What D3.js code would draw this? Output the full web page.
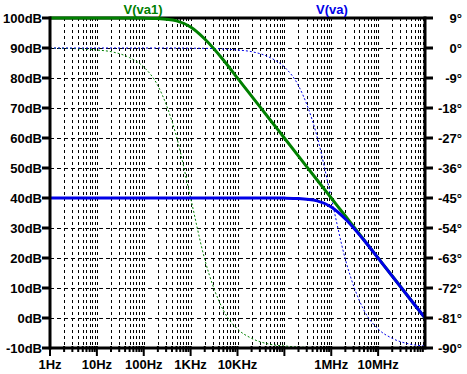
<!DOCTYPE html>
<html lang="en">

<head>
    <meta charset="UTF-8">
    <title>Bode plot</title>
    <script src="https://d3js.org/d3.v7.min.js"></script>
    <style>
        body { margin: 0; background: #fff; }
        text { font-family: "Liberation Sans", Arial, sans-serif; font-weight: bold; font-size: 13px; }
    </style>
</head>

<body>
    <script>
        // frequencies (Hz) the traces were read at
        var freq = [1, 2, 5, 10, 20, 50, 100, 200, 500, 1e3, 2e3, 5e3, 1e4, 2e4, 5e4,
            1e5, 2e5, 5e5, 1e6, 2e6, 5e6, 1e7, 2e7, 5e7, 1e8];

        // V(va1) magnitude (dB) and phase (deg)
        var va1Mag = [100, 100, 100, 100, 100, 100, 99.96, 99.83, 99.03, 96.99, 93.01, 86.02, 79.96,
            73.98, 66.0, 60.0, 53.98, 46.0, 40.0, 34.0, 26.0, 20.0, 14.0, 6.0, 0.0];
        var va1Phase = [-0.06, -0.1, -0.3, -0.6, -1.1, -2.9, -5.7, -11.3, -26.6, -45, -63.4, -78.7, -84.3,
            -87.1, -88.9, -89.4, -89.7, -89.9, -90, -90, -90, -90, -90, -90, -90];

        // V(va) magnitude (dB) and phase (deg)
        var vaMag = [40, 40, 40, 40, 40, 40, 40, 40, 40, 40, 40, 40, 40,
            40, 40, 39.96, 39.83, 39.03, 37.0, 33.0, 25.9, 19.96, 13.98, 6.0, 0.0];
        var vaPhase = [0, 0, 0, 0, 0, 0, 0, 0, 0, -0.06, -0.1, -0.3, -0.6,
            -1.1, -2.9, -5.7, -11.3, -26.6, -45, -63.4, -78.7, -84.3, -87.1, -88.9, -89.4];

        var dbTicks = [100, 90, 80, 70, 60, 50, 40, 30, 20, 10, 0, -10];
        var degTicks = [9, 0, -9, -18, -27, -36, -45, -54, -63, -72, -81, -90];
        var freqLabels = [
            { f: 1, label: "1Hz" }, { f: 10, label: "10Hz" }, { f: 100, label: "100Hz" },
            { f: 1e3, label: "1KHz" }, { f: 1e4, label: "10KHz" },
            { f: 1e6, label: "1MHz" }, { f: 1e7, label: "10MHz" }
        ];

        var pLeft = 50, pRight = 425, pTop = 18, pBottom = 348;
        var green = "#008000", blue = "#0000e8";

        var svg = d3.select("body")
            .append("svg")
            .attr("width", "467")
            .attr("height", "374");

        var x = d3.scaleLog().domain([1, 1e8]).range([pLeft, pRight]);
        var yDb = d3.scaleLinear().domain([-10, 100]).range([pBottom, pTop]);
        var yDeg = d3.scaleLinear().domain([-90, 9]).range([pBottom, pTop]);

        // minor/major frequency positions
        var gridF = [];
        for (var d = 0; d < 8; d++) {
            for (var m = 1; m <= 9; m++) {
                if (d == 0 && m == 1) continue;
                gridF.push(m * Math.pow(10, d));
            }
        }

        // vertical grid
        svg.append("g").selectAll("line")
            .data(gridF)
            .join("line")
            .attr("x1", function (f) { return Math.round(x(f)) + 0.5; })
            .attr("x2", function (f) { return Math.round(x(f)) + 0.5; })
            .attr("y1", pTop)
            .attr("y2", pBottom)
            .attr("stroke", "#000")
            .attr("stroke-width", 1)
            .attr("stroke-dasharray", "3,3");

        // horizontal grid
        svg.append("g").selectAll("line")
            .data(dbTicks.slice(1, -1))
            .join("line")
            .attr("x1", pLeft)
            .attr("x2", pRight)
            .attr("y1", function (v) { return Math.round(yDb(v)) + 0.5; })
            .attr("y2", function (v) { return Math.round(yDb(v)) + 0.5; })
            .attr("stroke", "#000")
            .attr("stroke-width", 1)
            .attr("stroke-dasharray", "4,3");

        var idx = d3.range(freq.length);

        function trace(vals, yScale, color, width, dash) {
            var line = d3.line()
                .x(function (i) { return x(freq[i]); })
                .y(function (i) { return yScale(vals[i]); })
                .curve(d3.curveMonotoneX);
            var p = svg.append("path")
                .datum(idx)
                .attr("d", line)
                .attr("fill", "none")
                .attr("stroke", color)
                .attr("stroke-width", width);
            if (dash) p.attr("stroke-dasharray", dash);
        }

        // phase traces (dotted), then magnitudes
        trace(va1Phase, yDeg, green, 1, "2,2");
        trace(vaPhase, yDeg, blue, 1, "2,2");

        // frame
        svg.append("line").attr("x1", pLeft).attr("x2", pRight).attr("y1", pTop).attr("y2", pTop)
            .attr("stroke", "#000").attr("stroke-width", 3);

        trace(va1Mag, yDb, green, 3);
        trace(vaMag, yDb, blue, 3);

        svg.append("line").attr("x1", pLeft).attr("x2", pLeft).attr("y1", pTop - 1.5).attr("y2", pBottom + 1.5)
            .attr("stroke", "#000").attr("stroke-width", 3);
        svg.append("line").attr("x1", pRight).attr("x2", pRight).attr("y1", pTop - 1.5).attr("y2", pBottom + 1.5)
            .attr("stroke", "#000").attr("stroke-width", 3);
        svg.append("line").attr("x1", pLeft).attr("x2", pRight).attr("y1", pBottom).attr("y2", pBottom)
            .attr("stroke", "#000").attr("stroke-width", 3);

        // left axis
        svg.append("g").selectAll("line")
            .data(dbTicks)
            .join("line")
            .attr("x1", pLeft - 8).attr("x2", pLeft)
            .attr("y1", function (v) { return yDb(v); })
            .attr("y2", function (v) { return yDb(v); })
            .attr("stroke", "#000").attr("stroke-width", 3);
        svg.append("g").selectAll("text")
            .data(dbTicks)
            .join("text")
            .attr("x", pLeft - 8)
            .attr("y", function (v) { return yDb(v) + 5; })
            .attr("text-anchor", "end")
            .text(function (v) { return v + "dB"; });

        // right axis
        svg.append("g").selectAll("line")
            .data(degTicks)
            .join("line")
            .attr("x1", pRight).attr("x2", pRight + 8)
            .attr("y1", function (v) { return yDeg(v); })
            .attr("y2", function (v) { return yDeg(v); })
            .attr("stroke", "#000").attr("stroke-width", 3);
        svg.append("g").selectAll("text")
            .data(degTicks)
            .join("text")
            .attr("x", 462)
            .attr("y", function (v) { return yDeg(v) + 5; })
            .attr("text-anchor", "end")
            .text(function (v) { return v + "\u00b0"; });

        // bottom axis ticks
        svg.append("g").selectAll("line")
            .data(gridF.concat([1]))
            .join("line")
            .attr("x1", function (f) { return x(f); })
            .attr("x2", function (f) { return x(f); })
            .attr("y1", pBottom - 2)
            .attr("y2", function (f) {
                return Math.abs(Math.log10(f) - Math.round(Math.log10(f))) < 1e-9 ? pBottom + 8 : pBottom + 4;
            })
            .attr("stroke", "#000").attr("stroke-width", 2);
        svg.append("g").selectAll("text")
            .data(freqLabels)
            .join("text")
            .attr("x", function (d) { return x(d.f); })
            .attr("y", 369)
            .attr("text-anchor", "middle")
            .text(function (d) { return d.label; });

        // trace names
        svg.append("text").attr("x", 143).attr("y", 14).attr("text-anchor", "middle")
            .attr("fill", green).text("V(va1)");
        svg.append("text").attr("x", 332).attr("y", 14).attr("text-anchor", "middle")
            .attr("fill", blue).text("V(va)");
    </script>
</body>

</html>
